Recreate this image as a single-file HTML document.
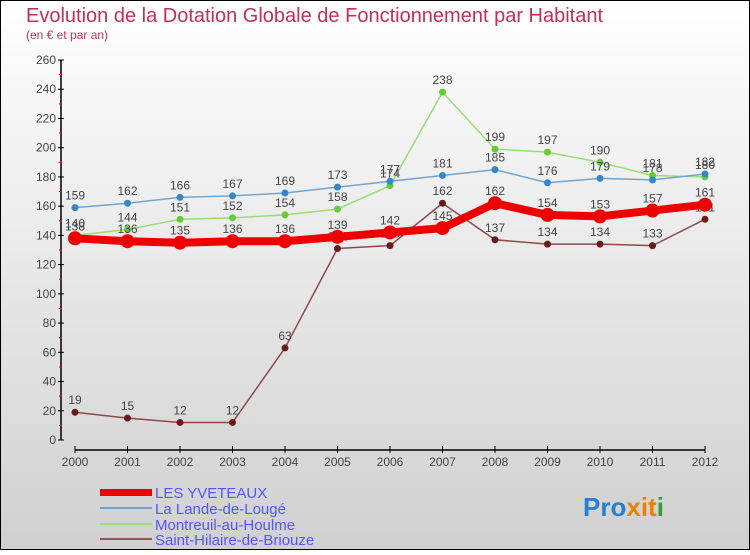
<!DOCTYPE html>
<html><head><meta charset="utf-8"><style>
body{margin:0}
#c{width:750px;height:550px;position:relative;font-family:"Liberation Sans",sans-serif}
</style></head><body>
<div id="c">
<svg id="s" width="750" height="550" xmlns="http://www.w3.org/2000/svg">
<defs><linearGradient id="bg" x1="0" y1="0" x2="0" y2="1"><stop offset="0" stop-color="#ffffff"/><stop offset="1" stop-color="#d0d0d0"/></linearGradient></defs>
<rect x="0.5" y="0.5" width="749" height="549" fill="url(#bg)" stroke="#000"/>
<text x="26" y="22" font-size="20" fill="#c0305a">Evolution de la Dotation Globale de Fonctionnement par Habitant</text>
<text x="26" y="39" font-size="12" fill="#c0305a">(en € et par an)</text>
<g id="axes"></g><g id="series"></g>
<g>
<rect x="100" y="489" width="52" height="7" fill="#ee0000"/>
<text x="155" y="498" font-size="15" fill="#5555ff">LES YVETEAUX</text>
<rect x="100" y="507" width="52" height="2" fill="#6fa6d0"/>
<text x="155" y="514" font-size="15" fill="#5555ff">La Lande-de-Lougé</text>
<rect x="100" y="523" width="52" height="2" fill="#99dd77"/>
<text x="155" y="530" font-size="15" fill="#5555ff">Montreuil-au-Houlme</text>
<rect x="100" y="538" width="52" height="2" fill="#8b5555"/>
<text x="155" y="545" font-size="15" fill="#5555ff">Saint-Hilaire-de-Briouze</text>
</g>
<text x="583" y="516" font-size="26" font-weight="bold"><tspan fill="#2a7fd0">Pro</tspan><tspan fill="#f08000">x</tspan><tspan fill="#f08000">i</tspan><tspan fill="#f08000">t</tspan><tspan fill="#30a030">i</tspan></text>
</svg>
</div>
<script>
const years=[2000,2001,2002,2003,2004,2005,2006,2007,2008,2009,2010,2011,2012];
const yveteaux=[138,136,135,136,136,139,142,145,162,154,153,157,161];
const lande=[159,162,166,167,169,173,177,181,185,176,179,178,182];
const montreuil=[140,144,151,152,154,158,174,238,199,197,190,181,180];
const sainthilaire=[19,15,12,12,63,131,133,162,137,134,134,133,151];
const yTicks=[0,20,40,60,80,100,120,140,160,180,200,220,240,260];
const NS="http://www.w3.org/2000/svg";
function X(i){return 75+i*52.5;}
function Y(v){return 440-v*380/260;}
function mk(t,a,p){const e=document.createElementNS(NS,t);for(const k in a)e.setAttribute(k,a[k]);p.appendChild(e);return e;}
const ax=document.getElementById('axes');
let l=mk('line',{x1:61,y1:Y(260),x2:61,y2:440,stroke:'#000','stroke-width':1.5},ax);


l=mk('line',{x1:75,y1:450,x2:X(12),y2:450,stroke:'#000','stroke-width':1.5},ax);


yTicks.forEach(v=>{
 mk('line',{x1:58,x2:64,y1:Y(v),y2:Y(v),stroke:'#000'},ax);
 if(v<260)mk('line',{x1:59,x2:62,y1:Y(v+10),y2:Y(v+10),stroke:'#ff0000'},ax);
 const t=mk('text',{x:56,y:Y(v)+4,'text-anchor':'end','font-size':12,fill:'#444'},ax);
 t.textContent=v;
 
 
});
years.forEach((y,i)=>{
 mk('line',{x1:X(i),x2:X(i),y1:446,y2:453,stroke:'#000'},ax);
 const t=mk('text',{x:X(i),y:466,'text-anchor':'middle','font-size':12,fill:'#444'},ax);
 t.textContent=y;
 
 
});
const sg=document.getElementById('series');
function draw(vals,color,dot,w,r,name){
 const g=mk('g',{},sg);
 
 
 const pl=mk('polyline',{points:vals.map((v,i)=>X(i)+','+Y(v)).join(' '),fill:'none',stroke:color,'stroke-width':w,'stroke-linejoin':'round'},g);
 
 
 vals.forEach((v,i)=>{
  const c=mk('circle',{cx:X(i),cy:Y(v),r:r,fill:dot},g);
  
  
  const t=mk('text',{x:X(i),y:Y(v)-8,'text-anchor':'middle','font-size':12,fill:'#444'},g);
  t.textContent=v;
  
  
 });
}
draw(sainthilaire,'#8b4a4a','#6b1a1a',1.5,3.5,'sainthilaire');
draw(montreuil,'#99dd77','#66cc33',1.5,3.5,'montreuil');
draw(lande,'#6fa6d0','#3388cc',1.5,3.5,'lande');
draw(yveteaux,'#ee0000','#ee0000',8,7,'yveteaux');
</script>
</body></html>
